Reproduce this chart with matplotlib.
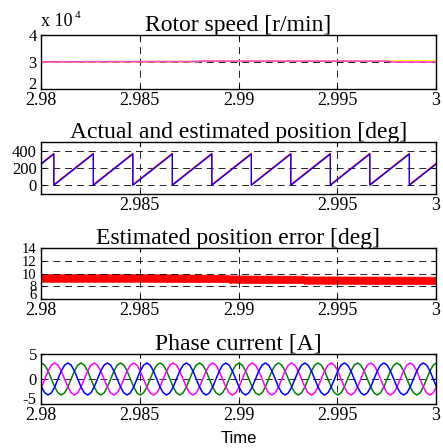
import numpy as np
import matplotlib
matplotlib.use('Agg')
import matplotlib.pyplot as plt

plt.rcParams['font.family'] = ['Liberation Serif', 'DejaVu Serif']
plt.rcParams['lines.scale_dashes'] = False

# rotor speed [r/min]
speed_t = [2.98, 2.988, 2.988, 2.9975, 2.9978, 3.0]
speed_est = [30050, 30150, 30350, 30350, 30000, 30000]
speed_ref_t = [2.98, 2.988, 2.988, 2.9975, 3.0]
speed_ref = [30050, 30150, 30350, 30350, 30500]

# actual / estimated position [deg] (sawtooth corners)
pos_t = [2.98, 2.98065, 2.98065, 2.98265, 2.98265, 2.98465, 2.98465, 2.98665, 2.98665,
         2.98865, 2.98865, 2.99065, 2.99065, 2.99265, 2.99265, 2.99465, 2.99465,
         2.99665, 2.99665, 2.99865, 2.99865, 3.0]
pos_act = [243, 360, 0, 360, 0, 360, 0, 360, 0, 360, 0, 360, 0, 360, 0, 360, 0,
           360, 0, 360, 0, 243]
pos_est = [252, 369, 9, 369, 9, 369, 9, 369, 9, 369, 9, 369, 9, 369, 9, 369, 9,
           369, 9, 369, 9, 252]

# position error band [deg]
err_t = [2.98, 2.985, 2.9895, 2.9895, 2.9933, 2.9933, 3.0]
err_hi = [9.9, 9.9, 9.8, 9.7, 9.65, 9.55, 9.5]
err_lo = [8.7, 8.7, 8.65, 8.55, 8.5, 8.4, 8.35]

# phase currents [A], sampled every 1/12 period (500 Hz)
t_cur = 2.97986 + np.arange(122) * 0.002 / 12
i_green = [2.77,
           3.2, 2.77, 1.6, 0, -1.6, -2.77, -3.2, -2.77, -1.6, 0, 1.6, 2.77,
           3.2, 2.77, 1.6, 0, -1.6, -2.77, -3.2, -2.77, -1.6, 0, 1.6, 2.77,
           3.2, 2.77, 1.6, 0, -1.6, -2.77, -3.2, -2.77, -1.6, 0, 1.6, 2.77,
           3.2, 2.77, 1.6, 0, -1.6, -2.77, -3.2, -2.77, -1.6, 0, 1.6, 2.77,
           3.2, 2.77, 1.6, 0, -1.6, -2.77, -3.2, -2.77, -1.6, 0, 1.6, 2.77,
           3.2, 2.77, 1.6, 0, -1.6, -2.77, -3.2, -2.77, -1.6, 0, 1.6, 2.77,
           3.2, 2.77, 1.6, 0, -1.6, -2.77, -3.2, -2.77, -1.6, 0, 1.6, 2.77,
           3.2, 2.77, 1.6, 0, -1.6, -2.77, -3.2, -2.77, -1.6, 0, 1.6, 2.77,
           3.2, 2.77, 1.6, 0, -1.6, -2.77, -3.2, -2.77, -1.6, 0, 1.6, 2.77,
           3.2, 2.77, 1.6, 0, -1.6, -2.77, -3.2, -2.77, -1.6, 0, 1.6, 2.77,
           3.2]
i_magenta = [-2.77,
             -1.6, 0, 1.6, 2.77, 3.2, 2.77, 1.6, 0, -1.6, -2.77, -3.2, -2.77,
             -1.6, 0, 1.6, 2.77, 3.2, 2.77, 1.6, 0, -1.6, -2.77, -3.2, -2.77,
             -1.6, 0, 1.6, 2.77, 3.2, 2.77, 1.6, 0, -1.6, -2.77, -3.2, -2.77,
             -1.6, 0, 1.6, 2.77, 3.2, 2.77, 1.6, 0, -1.6, -2.77, -3.2, -2.77,
             -1.6, 0, 1.6, 2.77, 3.2, 2.77, 1.6, 0, -1.6, -2.77, -3.2, -2.77,
             -1.6, 0, 1.6, 2.77, 3.2, 2.77, 1.6, 0, -1.6, -2.77, -3.2, -2.77,
             -1.6, 0, 1.6, 2.77, 3.2, 2.77, 1.6, 0, -1.6, -2.77, -3.2, -2.77,
             -1.6, 0, 1.6, 2.77, 3.2, 2.77, 1.6, 0, -1.6, -2.77, -3.2, -2.77,
             -1.6, 0, 1.6, 2.77, 3.2, 2.77, 1.6, 0, -1.6, -2.77, -3.2, -2.77,
             -1.6, 0, 1.6, 2.77, 3.2, 2.77, 1.6, 0, -1.6, -2.77, -3.2, -2.77,
             -1.6]
i_blue = [0,
          -1.6, -2.77, -3.2, -2.77, -1.6, 0, 1.6, 2.77, 3.2, 2.77, 1.6, 0,
          -1.6, -2.77, -3.2, -2.77, -1.6, 0, 1.6, 2.77, 3.2, 2.77, 1.6, 0,
          -1.6, -2.77, -3.2, -2.77, -1.6, 0, 1.6, 2.77, 3.2, 2.77, 1.6, 0,
          -1.6, -2.77, -3.2, -2.77, -1.6, 0, 1.6, 2.77, 3.2, 2.77, 1.6, 0,
          -1.6, -2.77, -3.2, -2.77, -1.6, 0, 1.6, 2.77, 3.2, 2.77, 1.6, 0,
          -1.6, -2.77, -3.2, -2.77, -1.6, 0, 1.6, 2.77, 3.2, 2.77, 1.6, 0,
          -1.6, -2.77, -3.2, -2.77, -1.6, 0, 1.6, 2.77, 3.2, 2.77, 1.6, 0,
          -1.6, -2.77, -3.2, -2.77, -1.6, 0, 1.6, 2.77, 3.2, 2.77, 1.6, 0,
          -1.6, -2.77, -3.2, -2.77, -1.6, 0, 1.6, 2.77, 3.2, 2.77, 1.6, 0,
          -1.6, -2.77, -3.2, -2.77, -1.6, 0, 1.6, 2.77, 3.2, 2.77, 1.6, 0,
          -1.6]

x_ticks = [2.98, 2.985, 2.99, 2.995, 3.0]
x_labels = ['2.98', '2.985', '2.99', '2.995', '3']

W, H = 443, 448
fig = plt.figure(figsize=(W / 100, H / 100), dpi=100)

def make_ax(top, bottom, ysize=12):
    ax = fig.add_axes([41 / W, 1 - bottom / H, 395 / W, (bottom - top) / H])
    ax.set_xlim(2.98, 3.0)
    for s in ax.spines.values():
        s.set_linewidth(1.0)
    ax.tick_params(direction='in', length=3, width=0.8, top=True, right=True, pad=2)
    ax.tick_params(axis='x', labelsize=13)
    ax.tick_params(axis='y', labelsize=ysize, pad=3)
    ax.grid(True, color='black', linestyle=(0, (5, 3.5)), linewidth=0.6)
    return ax

def bottom_label_up(ax):
    # lowest y label sits on the axis bottom, like in MATLAB
    ax.yaxis.get_major_ticks()[0].label1.set_verticalalignment('baseline')

# 1. rotor speed
ax1 = make_ax(35, 89)
ax1.plot(speed_ref_t, speed_ref, color='yellow', lw=1.2)
ax1.plot(speed_t, speed_est, color='#ff44cc', lw=1.2)
ax1.set_ylim(20000, 40000)
ax1.set_yticks([20000, 30000, 40000])
ax1.set_yticklabels(['2', '3', '4'])
ax1.set_xticks(x_ticks)
ax1.set_xticklabels(x_labels)
bottom_label_up(ax1)
ax1.set_title('Rotor speed [r/min]', fontsize=17, pad=3)
fig.text(41 / W, 1 - 26 / H, 'x 10', fontsize=13, va='baseline')
fig.text(75 / W, 1 - 18 / H, '4', fontsize=8, va='baseline')

# 2. position
ax2 = make_ax(142, 194)
ax2.plot(pos_t, pos_est, color='red', lw=0.9)
ax2.plot(pos_t, pos_act, color='blue', lw=0.9)
ax2.set_ylim(-100, 500)
ax2.set_yticks([0, 200, 400])
ax2.set_xticks([2.985, 2.995, 3.0])
ax2.set_xticklabels(['2.985', '2.995', '3'])
ax2.set_title('Actual and estimated position [deg]', fontsize=17, pad=3)

# 3. position error
ax3 = make_ax(248, 299, ysize=10.5)
ax3.fill_between(err_t, err_lo, err_hi, color='red', lw=0.5, edgecolor='red')
ax3.set_ylim(6, 14)
ax3.set_yticks([6, 8, 10, 12, 14])
ax3.set_xticks(x_ticks)
ax3.set_xticklabels(x_labels)
bottom_label_up(ax3)
ax3.set_title('Estimated position error [deg]', fontsize=17, pad=3)

# 4. phase currents
ax4 = make_ax(354, 404)
ax4.plot(t_cur, i_green, color='#008000', lw=1.1)
ax4.plot(t_cur, i_magenta, color='magenta', lw=1.1)
ax4.plot(t_cur, i_blue, color='blue', lw=1.1)
ax4.set_ylim(-5, 5)
ax4.set_yticks([-5, 0, 5])
ax4.set_yticklabels(['-5', '0', '5'])
ax4.set_xticks(x_ticks)
ax4.set_xticklabels(x_labels)
bottom_label_up(ax4)
ax4.set_title('Phase current [A]', fontsize=17, pad=3)
ax4.set_xlabel('Time', fontsize=12, family='Liberation Sans', labelpad=5)

fig.savefig('out.png', dpi=100)
